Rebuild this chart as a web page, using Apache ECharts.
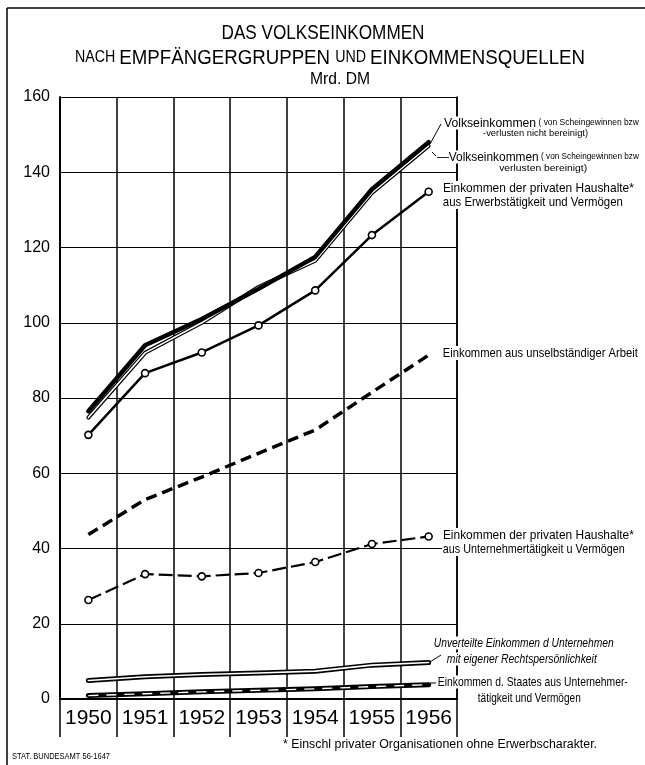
<!DOCTYPE html>
<html>
<head>
<meta charset="utf-8">
<title>Das Volkseinkommen</title>
<script src="https://cdn.jsdelivr.net/npm/echarts@6/dist/echarts.min.js"></script>
<style>
  html, body { margin: 0; padding: 0; background: #fff; }
  #chart { width: 645px; height: 765px; }
</style>
</head>
<body>
<div id="chart"></div>
<script>
// Mrd. DM
var years = ['1950', '1951', '1952', '1953', '1954', '1955', '1956'];
var yTicks = [0, 20, 40, 60, 80, 100, 120, 140, 160];
var volkNichtBereinigt = [76.5, 94.0, 101.0, 109.0, 117.5, 135.5, 148.0];
var volkBereinigt = [74.8, 92.0, 100.0, 109.5, 116.5, 134.5, 147.0];
var haushErwerb = [70.2, 86.6, 92.1, 99.3, 108.6, 123.3, 134.8];
var unselbstArbeit = [43.7, 53.0, 59.0, 65.3, 71.5, 81.5, 91.4];
var haushUnternehmer = [26.3, 33.2, 32.6, 33.5, 36.4, 41.2, 43.2];
var unverteilt = [4.9, 5.9, 6.5, 6.9, 7.4, 9.0, 9.7];
var staat = [0.9, 1.4, 1.9, 2.3, 2.7, 3.3, 3.8];

var FONT = "'Liberation Sans', 'DejaVu Sans', sans-serif";

var chart = echarts.init(document.getElementById('chart'), null, { renderer: 'canvas' });

// measure text so annotation lines can be squeezed like the condensed print type
var ctx = document.createElement('canvas').getContext('2d');
function measure(text, size, italic) {
  ctx.font = (italic ? 'italic ' : '') + size + 'px ' + FONT;
  return ctx.measureText(text).width;
}

function line(name, data, style, extra) {
  var s = {
    name: name,
    type: 'line',
    data: data,
    symbol: 'none',
    silent: true,
    animation: false,
    lineStyle: Object.assign({ color: '#000', width: 2, cap: 'round', join: 'round' }, style)
  };
  return Object.assign(s, extra || {});
}

// text squeezed horizontally to a given width
function fitTxt(x, y, text, size, width, opts) {
  opts = opts || {};
  var w = measure(text, size, opts.italic);
  var st = {
    text: text,
    fill: '#000',
    font: (opts.italic ? 'italic ' : '') + size + 'px ' + FONT,
    verticalAlign: 'middle',
    align: opts.align || 'left'
  };
  if (opts.bg) {
    st.backgroundColor = '#fff';
    st.padding = [0, 1];
  }
  return { type: 'text', x: x, y: y, z: 100, scaleX: width ? width / w : 1, silent: true, style: st };
}

// mixed sizes on one line, squeezed to a width; parts = [[text, size], ...]
function mixTxt(x, y, parts, width, align, bg) {
  var w = 0, rich = {}, str = '';
  parts.forEach(function (p, i) {
    w += measure(p[0], p[1]);
    rich['p' + i] = { fontSize: p[1], fontFamily: FONT, fill: '#000' };
    str += '{p' + i + '|' + p[0] + '}';
  });
  var st = { text: str, verticalAlign: 'middle', align: align || 'left', rich: rich };
  if (bg) {
    st.backgroundColor = '#fff';
    st.padding = [0, 1];
  }
  return { type: 'text', x: x, y: y, z: 100, silent: true, scaleX: width / w, style: st };
}

function seg(x1, y1, x2, y2, w) {
  return {
    type: 'line',
    silent: true,
    z: 101,
    shape: { x1: x1, y1: y1, x2: x2, y2: y2 },
    style: { stroke: '#000', lineWidth: w || 1 }
  };
}

var BG = { bg: true };

chart.setOption({
  backgroundColor: '#fff',
  animation: false,
  grid: { left: 60, right: 188, top: 97, bottom: 66, containLabel: false },
  xAxis: {
    type: 'category',
    data: years,
    boundaryGap: true,
    axisLine: { show: true, lineStyle: { color: '#000', width: 2 } },
    axisTick: { show: true, length: 38, lineStyle: { color: '#000', width: 1.5 } },
    axisLabel: {
      color: '#000', fontSize: 21, fontFamily: FONT, margin: 9,
      interval: 0, hideOverlap: false
    },
    splitLine: { show: true, lineStyle: { color: '#000', width: 1.5 } }
  },
  yAxis: [{
    type: 'value',
    min: yTicks[0],
    max: yTicks[yTicks.length - 1],
    interval: 20,
    axisLine: { show: true, lineStyle: { color: '#000', width: 2 } },
    axisTick: { show: false },
    axisLabel: { color: '#000', fontSize: 16, fontFamily: FONT, margin: 10 },
    splitLine: { show: true, lineStyle: { color: '#000', width: 1 } }
  }, {
    type: 'value',
    position: 'right',
    min: yTicks[0],
    max: yTicks[yTicks.length - 1],
    interval: 20,
    axisLine: { show: true, lineStyle: { color: '#000', width: 1.5 } },
    axisTick: { show: false },
    axisLabel: { show: false },
    splitLine: { show: false }
  }],
  series: [
    line('Volkseinkommen bereinigt', volkBereinigt, { width: 4 }),
    line('Volkseinkommen bereinigt innen', volkBereinigt, { width: 1.6, color: '#fff' }),
    line('Volkseinkommen nicht bereinigt', volkNichtBereinigt, { width: 4.5 }),
    line('Haushalte Erwerb', haushErwerb, { width: 2.5 }, {
      symbol: 'circle', symbolSize: 7,
      itemStyle: { color: '#fff', borderColor: '#000', borderWidth: 1.6 }
    }),
    line('Unselbstaendige Arbeit', unselbstArbeit, { width: 3.5, type: [11, 6], cap: 'butt' }),
    line('Haushalte Unternehmer', haushUnternehmer, { width: 2.2, type: [14, 5], cap: 'butt' }, {
      symbol: 'circle', symbolSize: 7,
      itemStyle: { color: '#fff', borderColor: '#000', borderWidth: 1.6 }
    }),
    line('Unverteilte', unverteilt, { width: 5 }),
    line('Unverteilte innen', unverteilt, { width: 1.6, color: '#fff' }),
    line('Staat', staat, { width: 5 }),
    line('Staat innen', staat, { width: 1.4, color: '#fff', type: [10, 8], cap: 'butt' })
  ],
  graphic: [
    // frame
    seg(7, 8, 645, 8, 1.5),
    seg(7, 8, 7, 765, 1.5),
    // title
    fitTxt(323, 33, 'DAS VOLKSEINKOMMEN', 21, 203, { align: 'center' }),
    mixTxt(330, 58, [['NACH ', 16], ['EMPFÄNGERGRUPPEN ', 21], ['UND ', 16], ['EINKOMMENSQUELLEN', 21]], 510, 'center'),
    fitTxt(340, 80, 'Mrd. DM', 16, 60, { align: 'center' }),
    // series labels
    seg(430, 144, 441, 124, 1),
    mixTxt(443, 123, [['Volkseinkommen', 13], [' ( von Scheingewinnen bzw', 9]], 195, 'left', true),
    fitTxt(482, 134, '-verlusten nicht bereinigt)', 9, 105, BG),
    seg(432, 152, 436, 156, 1),
    mixTxt(436, 157, [['—Volkseinkommen', 13], [' ( von Scheingewinnen bzw', 9]], 202, 'left', true),
    fitTxt(498, 169, 'verlusten bereinigt)', 9, 88, BG),
    fitTxt(442, 188, 'Einkommen der privaten Haushalte*', 13.5, 191, BG),
    fitTxt(442, 202, 'aus Erwerbstätigkeit und Vermögen', 13.5, 180, BG),
    fitTxt(442, 353, 'Einkommen aus unselbständiger Arbeit', 13.5, 195, BG),
    fitTxt(442, 535, 'Einkommen der privaten Haushalte*', 13.5, 191, BG),
    fitTxt(442, 549, 'aus Unternehmertätigkeit u Vermögen', 13.5, 182, BG),
    seg(430, 662, 441, 655, 1),
    fitTxt(433, 643, 'Unverteilte Einkommen d Unternehmen', 13, 180, { italic: true, bg: true }),
    fitTxt(446, 659, 'mit eigener Rechtspersönlichkeit', 13, 150, { italic: true, bg: true }),
    seg(430, 683, 436, 683, 1),
    fitTxt(437, 682, 'Einkommen d. Staates aus Unternehmer-', 13, 190, BG),
    fitTxt(477, 698, 'tätigkeit und Vermögen', 13, 103, BG),
    // footnotes
    fitTxt(283, 745, '* Einschl privater Organisationen ohne Erwerbscharakter.', 12, 314),
    fitTxt(12, 757, 'STAT. BUNDESAMT 56-1647', 9, 98)
  ]
});
</script>
</body>
</html>
